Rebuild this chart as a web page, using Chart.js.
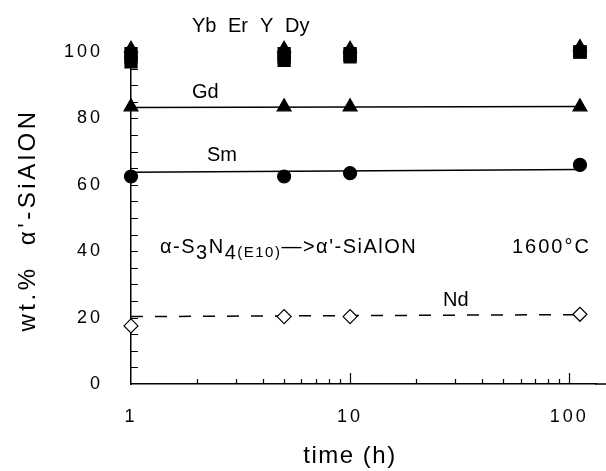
<!DOCTYPE html>
<html>
<head>
<meta charset="utf-8">
<script src="https://cdn.jsdelivr.net/npm/chart.js@4"></script>
<style>
  html, body { margin: 0; padding: 0; background: #fff; }
  #wrap { width: 606px; height: 471px; }
</style>
</head>
<body>
<div id="wrap"><canvas id="chart"></canvas></div>
<script>
// anneal times (h)
const times = [1, 5, 10, 112];

// wt.% alpha'-SiAlON per rare earth
const ybValues = [101, 101, 101, 101.5];
const erValues = [99.5, 99.5, 99.5, 100];
const yValues = [98.5, 98.5, 99, 100];
const dyValues = [97, 97.5, 98.5, 100];
const gdValues = [83.5, 83.5, 83.5, 83.5];
const smValues = [62.5, 62.5, 63.5, 66];
const ndValues = [17.5, 20.3, 20.3, 21];

// straight fit lines drawn through each group
const fitTimes = [1, 112];
const gdFit = [83.3, 83.6];
const smFit = [63.8, 64.6];
const ndFit = [20.3, 20.9];

const yTickLabels = [0, 20, 40, 60, 80, 100];
const xTickLabels = [1, 10, 100];

const FONT = '"Liberation Sans", Arial, sans-serif';

function pts(xs, ys) {
  return xs.map((x, i) => ({ x: x, y: ys[i] }));
}

function markerSet(label, values, style, radius, fill) {
  return {
    label: label,
    data: pts(times, values),
    showLine: false,
    pointStyle: style,
    pointRadius: radius,
    pointBackgroundColor: fill,
    pointBorderColor: '#000',
    pointBorderWidth: 1.2,
    clip: false,
    order: 0
  };
}

function fitSet(label, values, dash) {
  return {
    label: label,
    data: pts(fitTimes, values),
    showLine: true,
    borderColor: '#000',
    borderWidth: 1.5,
    borderDash: dash,
    pointRadius: 0,
    fill: false,
    order: 1
  };
}

function spacedText(ctx, text, x, y, spacing) {
  ctx.letterSpacing = spacing + 'px';
  ctx.fillText(text, x, y);
  return ctx.measureText(text).width;
}

const tickMarks = {
  id: 'tickMarks',
  beforeDraw(chart) {
    chart.ctx.letterSpacing = '3px';
  },
  afterDraw(chart) {
    const ctx = chart.ctx;
    const xs = chart.scales.x;
    const ys = chart.scales.y;
    const area = chart.chartArea;
    ctx.save();
    ctx.strokeStyle = '#000';
    ctx.lineWidth = 1.2;
    ctx.beginPath();
    for (let v = 5; v < 100; v += 5) {
      const py = Math.round(ys.getPixelForValue(v)) + 0.5;
      ctx.moveTo(area.left, py);
      ctx.lineTo(area.left + 7, py);
    }
    for (let d = 1; d <= 100; d *= 10) {
      for (let k = 2; k <= 10; k++) {
        const v = d * k;
        if (v > xs.max) continue;
        const px = Math.round(xs.getPixelForValue(v)) + 0.5;
        const len = k === 10 ? 11 : 5;
        ctx.moveTo(px, area.bottom);
        ctx.lineTo(px, area.bottom - len);
      }
    }
    ctx.stroke();
    // axis line runs on to the edge of the figure
    ctx.lineWidth = 1.5;
    ctx.beginPath();
    ctx.moveTo(area.right - 1, area.bottom);
    ctx.lineTo(chart.width, area.bottom);
    ctx.stroke();

    ctx.fillStyle = '#000';
    ctx.textBaseline = 'middle';

    // axis titles
    ctx.font = '24px ' + FONT;
    ctx.letterSpacing = '1.5px';
    ctx.textAlign = 'center';
    ctx.fillText('time (h)', 350, 456);
    ctx.save();
    ctx.translate(28, 220);
    ctx.rotate(-Math.PI / 2);
    ctx.letterSpacing = '3.5px';
    ctx.fillText('wt.%  α\'-SiAlON', 0, 0);
    ctx.restore();
    ctx.textAlign = 'left';

    // annotations
    ctx.font = '20px ' + FONT;
    ctx.letterSpacing = '0px';
    ctx.fillText('Yb', 192, 26);
    ctx.fillText('Er', 228, 26);
    ctx.fillText('Y', 260, 26);
    ctx.fillText('Dy', 285, 26);
    ctx.fillText('Gd', 192, 92);
    ctx.fillText('Sm', 207, 155);
    ctx.fillText('Nd', 443, 300);
    ctx.letterSpacing = '2px';
    ctx.fillText('1600°C', 512, 247);

    // alpha-Si3N4(E10) --> alpha'-SiAlON
    let x = 160;
    const base = 247;
    const big = '20px ' + FONT;
    const small = '15px ' + FONT;
    const parts = [
      ['α-S', big, 0],
      ['3', big, 6],
      ['N', big, 0],
      ['4', big, 6],
      ['(E10)', small, 6],
      ['—>α\'-SiAlON', big, 0]
    ];
    parts.forEach(p => {
      ctx.font = p[1];
      x += spacedText(ctx, p[0], x, base + p[2], 1.5);
    });
    ctx.restore();
  }
};

new Chart(document.getElementById('chart'), {
  type: 'scatter',
  data: {
    datasets: [
      markerSet('Yb', ybValues, 'triangle', 7.5, '#000'),
      markerSet('Er', erValues, 'rect', 8.5, '#000'),
      markerSet('Y', yValues, 'rect', 8.5, '#000'),
      markerSet('Dy', dyValues, 'rect', 8.5, '#000'),
      markerSet('Gd', gdValues, 'triangle', 8, '#000'),
      markerSet('Sm', smValues, 'circle', 6.5, '#000'),
      markerSet('Nd', ndValues, 'rectRot', 7, '#fff'),
      fitSet('Gd fit', gdFit, []),
      fitSet('Sm fit', smFit, []),
      fitSet('Nd fit', ndFit, [12, 12])
    ]
  },
  options: {
    responsive: true,
    maintainAspectRatio: false,
    animation: false,
    layout: { padding: { top: 52, right: 0, left: 0, bottom: 0 } },
    plugins: {
      legend: { display: false },
      tooltip: { enabled: false }
    },
    scales: {
      x: {
        type: 'logarithmic',
        min: 1,
        max: 133,
        afterBuildTicks: (scale) => {
          scale.ticks = xTickLabels.map(v => ({ value: v }));
        },
        afterFit: (scale) => {
          scale.height = 87;
          scale.paddingLeft = 0;
          scale.paddingRight = 0;
        },
        grid: { display: false, drawTicks: false },
        border: { display: true, color: '#000', width: 1.5 },
        ticks: {
          color: '#000',
          padding: 22,
          maxRotation: 0,
          autoSkip: false,
          font: { family: FONT, size: 18 },
          callback: (v) => String(v)
        }
      },
      y: {
        min: 0,
        max: 100,
        afterBuildTicks: (scale) => {
          scale.ticks = yTickLabels.map(v => ({ value: v }));
        },
        afterFit: (scale) => {
          scale.width = 131;
          scale.paddingTop = 0;
          scale.paddingBottom = 0;
        },
        grid: { display: false, drawTicks: false },
        border: { display: true, color: '#000', width: 1.5 },
        ticks: {
          color: '#000',
          padding: 28,
          font: { family: FONT, size: 18 }
        }
      }
    }
  },
  plugins: [tickMarks]
});
</script>
</body>
</html>
